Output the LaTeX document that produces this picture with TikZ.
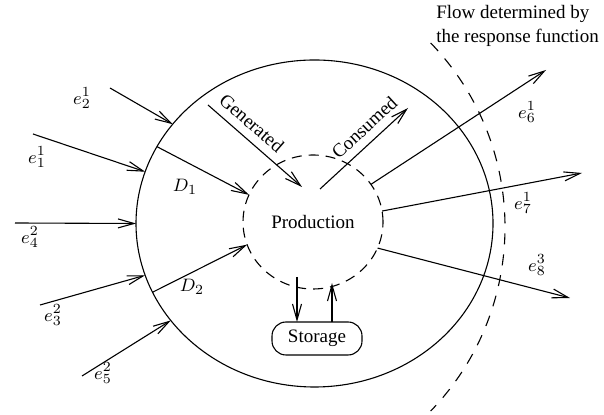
\documentclass[tikz,border=0pt]{standalone}
\usepackage{fontspec}
\setmainfont{Liberation Serif}
\usetikzlibrary{shapes.geometric,arrows.meta}
\begin{document}
\begin{tikzpicture}[x=0.5pt,y=-0.5pt,font=\fontsize{9.5}{12}\selectfont]
        \tikzstyle{flow}=[draw, line width=0.55pt, -{Straight Barb[length=8pt,width=4.5pt]}]
        \tikzstyle{ring}=[ellipse, draw, line width=0.55pt, inner sep=0pt, outer sep=0pt]
        \useasboundingbox (0,0) rectangle (604,415);

        \node[ring, minimum width=178.5pt, minimum height=163.5pt] (cell) at (314.5,223.5) {};
        \node[ring, dash pattern=on 5pt off 3.5pt, minimum width=70pt, minimum height=67pt] (prod) at (313,222) {Production};
        \node[draw, line width=0.55pt, rounded corners=7pt, minimum width=45pt, minimum height=16.5pt, inner sep=0pt, outer sep=0pt] (store) at (317,338.5) {Storage};

        \draw[line width=0.55pt, dash pattern=on 5.5pt off 5pt]
          (240,227) ++(44:132.5pt) arc[start angle=44, end angle=-44, radius=132.5pt];
        \node[align=left] (resp) at (517.5,26) {Flow determined by\\the response function};

        \foreach \n/\sx/\sy/\ang in {a/110/88/145, b/33/134/163, c/15/223/180, d/40/305/197, e/82/376/214}
        {
          \coordinate (in\n) at (\sx,\sy);
          \draw[flow] (in\n) -- (cell.\ang);
        }

        \foreach \n/\ex/\ey/\ang in {f/546/70/33, g/582/173/9.5, h/570/298/-22}
        {
          \coordinate (out\n) at (\ex,\ey);
          \draw[flow] (prod.\ang) -- (out\n);
        }

        \draw[flow] (cell.154) -- (prod.157);
        \draw[flow] (cell.203) -- (prod.199);

        \coordinate (gen1) at (208,105);
        \coordinate (gen2) at (302,187);
        \coordinate (con1) at (320,189);
        \coordinate (con2) at (408,108);
        \draw[flow] (gen1) -- node[sloped, above, pos=0.36, inner sep=4pt] {Generated} (gen2);
        \draw[flow] (con1) -- node[sloped, above, pos=0.62, inner sep=4pt] {Consumed} (con2);

        \coordinate (dtop) at (297,277);
        \coordinate (utop) at (332,283);
        \draw[flow] (dtop) -- (dtop |- store.north);
        \draw[flow] (store.north -| utop) -- (utop);

        \path (82,98) node (la) {$e^1_2$};
        \path (37,157) node (lb) {$e^1_1$};
        \path (30,237) node (lc) {$e^2_4$};
        \path (53,315) node (ld) {$e^2_3$};
        \path (103,373) node (le) {$e^2_5$};
        \path (185,187) node (ld1) {$D_1$};
        \path (192,287) node (ld2) {$D_2$};
        \path (527,112) node (lf) {$e^1_6$};
        \path (523,203) node (lg) {$e^1_7$};
        \path (537,265) node (lh) {$e^3_8$};
      \end{tikzpicture}
\end{document}
